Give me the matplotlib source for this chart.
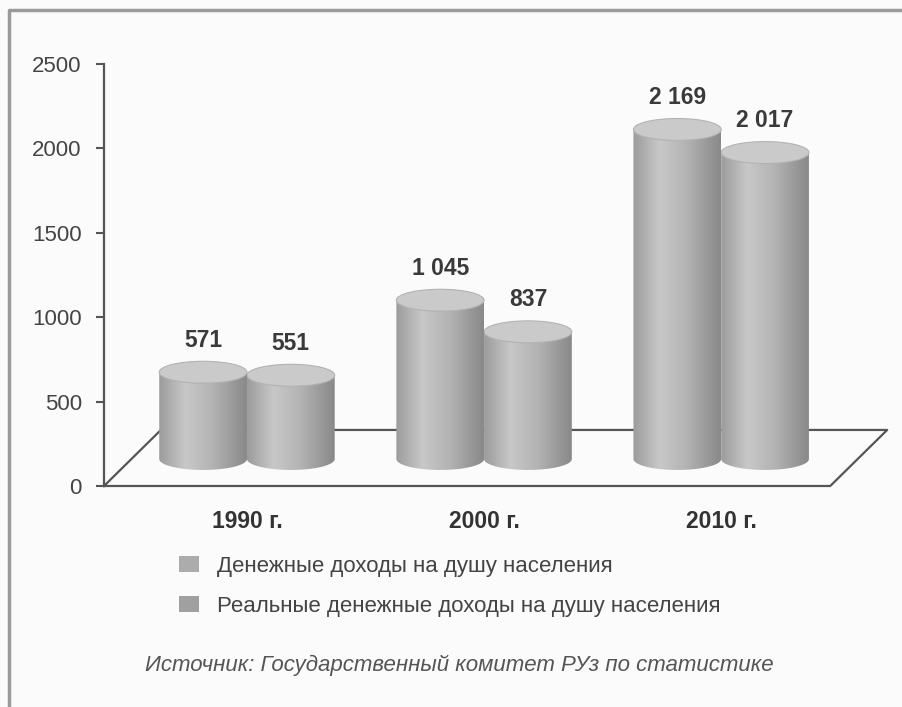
import numpy as np
import matplotlib.pyplot as plt
from matplotlib.patches import Ellipse, Polygon, Patch
from matplotlib.colors import LinearSegmentedColormap
from matplotlib.lines import Line2D

plt.rcParams['font.family'] = ['Liberation Sans', 'DejaVu Sans']

years = ["1990 г.", "2000 г.", "2010 г."]
income = [571, 1045, 2169]
real_income = [551, 837, 2017]
series_names = ["Денежные доходы на душу населения",
                "Реальные денежные доходы на душу населения"]
yticks = [0, 500, 1000, 1500, 2000, 2500]
source = "Источник: Государственный комитет РУз по статистике"

# pseudo 3d look
BASE = 160          # cylinders stand a bit behind the front edge (value units)
SCALE = 0.9         # perspective shrink of the heights
R = 0.185           # cylinder radius, category units
EH = 130            # ellipse height, value units
DX, DY = 0.24, 332  # floor depth
XMIN, XMAX = -0.603, 2.75

cyl_cmap = LinearSegmentedColormap.from_list(
    'cyl', [(0, '#9c9c9c'), (0.3, '#c8c8c8'), (0.6, '#b4b4b4'), (1, '#898989')])


def fmt(v):
    return f"{v:,}".replace(",", " ")


def cylinder(ax, xc, value, z):
    top = BASE + value * SCALE
    t = np.linspace(np.pi, 2 * np.pi, 80)
    bx = xc + R * np.cos(t)
    by = BASE + EH / 2 * np.sin(t)
    verts = np.column_stack([np.r_[bx, xc + R, xc - R], np.r_[by, top, top]])
    body = Polygon(verts, closed=True, facecolor='none', edgecolor='none')
    ax.add_patch(body)
    grad = np.linspace(0, 1, 200).reshape(1, -1)
    im = ax.imshow(grad, cmap=cyl_cmap, extent=[xc - R, xc + R, BASE - EH / 2, top],
                   aspect='auto', origin='lower', interpolation='bilinear', zorder=z)
    im.set_clip_path(body)
    ax.add_patch(Ellipse((xc, top), 2 * R, EH, facecolor='#cacaca',
                         edgecolor='#b3b3b3', lw=0.8, zorder=z + 0.1))
    ax.annotate(fmt(value), (xc, top + EH / 2), xytext=(0, 7), textcoords='offset points',
                ha='center', va='bottom', fontsize=16.5, fontweight='bold', color='#3a3a3a',
                zorder=10)


fig = plt.figure(figsize=(9.02, 7.07), dpi=100)
fig.patch.set_facecolor('#fbfbfb')
ax = fig.add_axes([0.1153, 0.3126, 0.8814, 0.5969])
ax.set_facecolor('none')

# floor
xfr = 2.46
ax.plot([XMIN, xfr, xfr + DX, XMIN + DX, XMIN], [0, 0, DY, DY, 0],
        color='#555555', lw=1.6, zorder=1, clip_on=False)

for i in range(len(years)):
    cylinder(ax, i + R, real_income[i], 2)
    cylinder(ax, i - R, income[i], 3)

ax.set_xlim(XMIN, XMAX)
ax.set_ylim(0, 2500)

for s in ['top', 'right', 'bottom']:
    ax.spines[s].set_visible(False)
ax.spines['left'].set_color('#555555')
ax.spines['left'].set_linewidth(1.6)

ax.set_yticks(yticks)
ax.tick_params(axis='y', length=6, width=1.5, color='#555555', labelsize=16,
               labelcolor='#444444', pad=10)
ax.set_xticks(range(len(years)))
ax.set_xticklabels(years, fontsize=16.5, fontweight='bold', color='#333333')
ax.tick_params(axis='x', length=0, pad=17)

fig.legend(handles=[Patch(facecolor='#acacac', edgecolor='none'),
                    Patch(facecolor='#a0a0a0', edgecolor='none')],
           labels=series_names, loc='upper left',
           bbox_to_anchor=(179 / 902, 1 - 556 / 707), frameon=False, fontsize=16,
           borderaxespad=0, borderpad=0,
           handlelength=0.9, handleheight=0.7, handletextpad=0.8, labelspacing=0.85,
           labelcolor='#444444')

fig.text(459 / 902, 1 - 665 / 707, source, ha='center', va='center', style='italic',
         fontsize=16, color='#555555')

# outer frame of the scanned figure
fig.add_artist(Line2D([9 / 902, 9 / 902, 1], [0, 1 - 10 / 707, 1 - 10 / 707],
                      transform=fig.transFigure, color='#9a9a9a', lw=2.5))

fig.savefig('out.png', dpi=100, facecolor=fig.get_facecolor())
